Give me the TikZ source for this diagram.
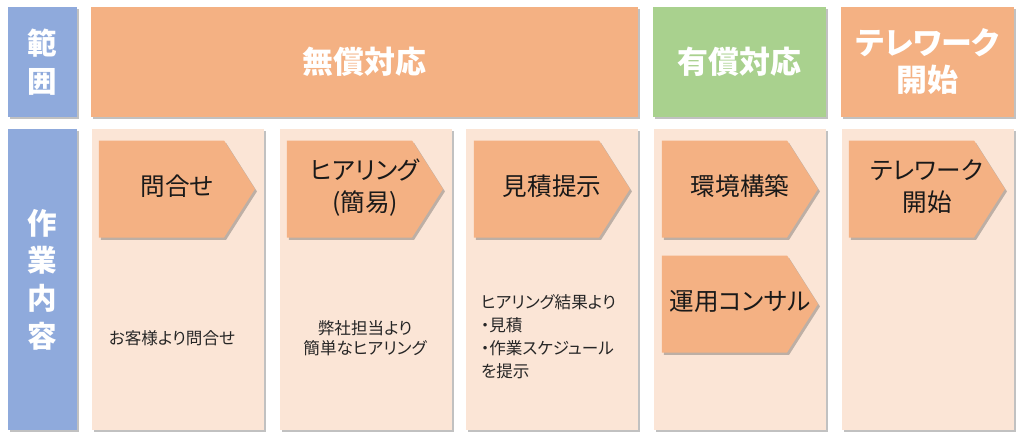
\documentclass[tikz,border=0pt]{standalone}
\usepackage{fontspec}
\setmainfont{Noto Sans CJK JP}[RawFeature=+palt]
\usetikzlibrary{shapes.symbols,shadows}
\definecolor{headorange}{HTML}{F4B183}
\definecolor{paleorange}{HTML}{FBE5D6}
\definecolor{headgreen}{HTML}{A9D18E}
\definecolor{sideblue}{HTML}{8FAADC}
% text of a step, moved right so that it sits in the middle of the arrow
\newcommand{\steptext}[1]{\hspace*{0.775cm}\makebox[0pt]{\begin{tabular}{@{}c@{}}#1\end{tabular}}}

\begin{document}
\begin{tikzpicture}
    \tikzstyle{boxshadow}=[drop shadow={shadow xshift=0.05cm, shadow yshift=-0.06cm, opacity=0.35, fill=black!70}]
    \tikzstyle{side}=[rectangle, fill=sideblue, boxshadow, inner sep=0, minimum width=1.725cm,
    text=white, align=center, font=\bfseries\fontsize{21}{26.8}\selectfont]
    \tikzstyle{head}=[rectangle, boxshadow, inner sep=0, minimum height=2.75cm,
    text=white, align=center, font=\bfseries\fontsize{22}{26.3}\selectfont]
    \tikzstyle{column}=[rectangle, fill=paleorange, boxshadow, inner sep=0,
    minimum width=4.3cm, minimum height=7.525cm]
    \tikzstyle{stepsign}=[signal, signal to=east, signal pointer angle=115, fill=headorange, boxshadow,
    inner sep=0, minimum width=3.9cm, minimum height=2.425cm,
    text=black!90, font=\fontsize{17.5}{22.8}\selectfont]
    \tikzstyle{memo}=[text=black!85, font=\fontsize{11.8}{16.4}\selectfont]
    \useasboundingbox (0,0) rectangle (25.6,-11.025);

    % top row
    \node[side, minimum height=2.75cm] (range) at (1.0625,-1.55) {範\\囲};
    \node[head, fill=headorange, minimum width=13.675cm] (free) at (9.1125,-1.55) {無償対応};
    \node[head, fill=headgreen, minimum width=4.325cm] (paid) at (18.4875,-1.55) {有償対応};
    \node[head, fill=headorange, minimum width=4.325cm] (start) at (23.1875,-1.55) {テレワーク\\開始};

    % work columns
    \node[side, minimum height=7.525cm] (work) at (1.0625,-6.9875) {作\\業\\内\\容};
    \node[column] (c1) at (4.4375,-6.9875) {};
    \node[column] (c2) at (9.1375,-6.9875) {};
    \node[column] (c3) at (13.8,-6.9875) {};
    \node[column] (c4) at (18.4875,-6.9875) {};
    \node[column] (c5) at (23.1875,-6.9875) {};

    \node[stepsign] (s1) at (4.0375,-4.725) {\steptext{問合せ}};
    \node[stepsign] (s2) at (8.7375,-4.725) {\steptext{ヒアリング\\(簡易)}};
    \node[stepsign] (s3) at (13.4125,-4.725) {\steptext{見積提示}};
    \node[stepsign] (s4) at (18.1125,-4.725) {\steptext{環境構築}};
    \node[stepsign] (s5) at (18.1125,-7.6) {\steptext{運用コンサル}};
    \node[stepsign] (s6) at (22.7875,-4.725) {\steptext{テレワーク\\開始}};

    % notes
    \node[memo] (m1) at (4.3,-8.45) {お客様より問合せ};
    \node[memo, align=center, font=\fontsize{11.8}{14.5}\selectfont] (m2) at (9.125,-8.45) {弊社担当より\\簡単なヒアリング};
    \node[memo, align=left, anchor=west] (m3) at (11.9,-8.425) {ヒアリング結果より\\・見積\\・作業スケジュール\\を提示};

\end{tikzpicture}
\end{document}
